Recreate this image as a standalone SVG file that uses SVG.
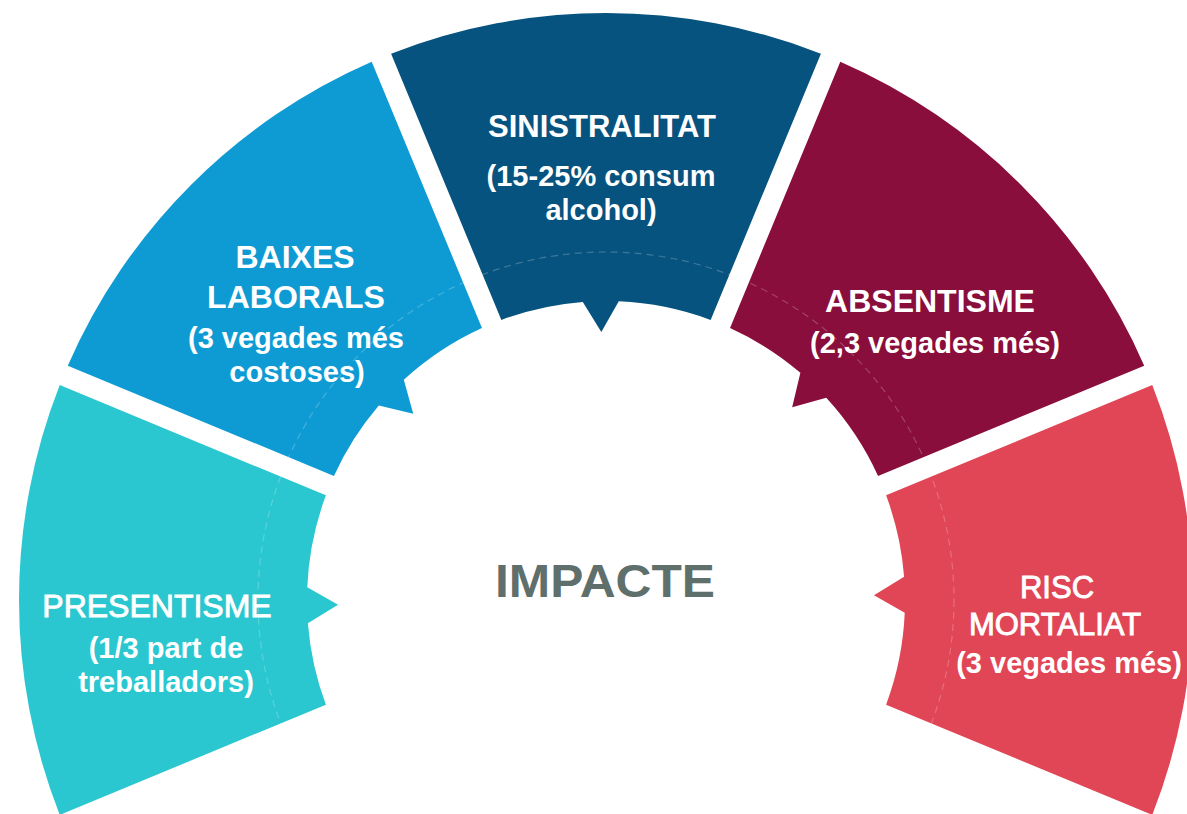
<svg xmlns="http://www.w3.org/2000/svg" width="1187" height="814" viewBox="0 0 1187 814">
<style>
.t{font-family:"Liberation Sans",Arial,sans-serif;fill:#ffffff;text-anchor:middle}
.b{font-weight:bold}
.r{stroke:#ffffff;stroke-width:0.9}
.h{font-size:32px}
.s{font-size:29px;font-weight:bold}
.ring{fill:none;stroke:#ffffff;stroke-opacity:0.22;stroke-width:1.2;stroke-dasharray:7 5}
</style>
<rect width="1187" height="814" fill="#ffffff"/>
<g id="presentisme">
<path d="M 59.75 814.9 A 587 587 0 0 1 59.75 385.1 L 325.9 495.35 A 299 299 0 0 0 307.27 587.22 L 338.04 604.68 L 307.90 623.20 A 299 299 0 0 0 325.9 704.65 Z" fill="#2bc7d0"/>
</g>
<g id="baixes">
<path d="M 67.79 365.70 A 587 587 0 0 1 371.70 61.79 L 481.95 327.95 A 299 299 0 0 0 403.81 379.73 L 413.22 413.83 L 378.81 405.62 A 299 299 0 0 0 333.95 475.95 Z" fill="#0e9bd3"/>
</g>
<g id="sinistralitat">
<path d="M 391.10 53.75 A 587 587 0 0 1 820.90 53.75 L 710.65 319.91 A 299 299 0 0 0 618.78 301.27 L 601.32 332.04 L 582.80 301.90 A 299 299 0 0 0 501.35 319.91 Z" fill="#07537f"/>
</g>
<g id="absentisme">
<path d="M 840.30 61.79 A 587 587 0 0 1 1144.21 365.70 L 878.05 475.95 A 299 299 0 0 0 826.27 397.81 L 792.17 407.22 L 800.38 372.81 A 299 299 0 0 0 730.05 327.95 Z" fill="#8a0e3b"/>
</g>
<g id="risc">
<path d="M 1152.25 385.10 A 587 587 0 0 1 1152.25 814.90 L 886.09 704.65 A 299 299 0 0 0 904.73 612.78 L 873.96 595.32 L 904.10 576.80 A 299 299 0 0 0 886.09 495.35 Z" fill="#e14656"/>
</g>
<circle class="ring" cx="606" cy="600" r="348"/>
<g id="labels">
<text class="t h r" x="157" y="617">PRESENTISME</text>
<text class="t s" x="166" y="658">(1/3 part de</text>
<text class="t s" x="166" y="692">treballadors)</text>

<text class="t h b" x="295" y="268">BAIXES</text>
<text class="t h b" x="296" y="308">LABORALS</text>
<text class="t s" x="296" y="348">(3 vegades més</text>
<text class="t s" x="297" y="382">costoses)</text>

<text class="t b" font-size="31" x="602" y="137">SINISTRALITAT</text>
<text class="t s" x="601" y="186">(15-25% consum</text>
<text class="t s" x="601" y="220">alcohol)</text>

<text class="t h b" x="930" y="312">ABSENTISME</text>
<text class="t s" x="935" y="353">(2,3 vegades més)</text>

<text class="t r" font-size="31" x="1057" y="598">RISC</text>
<text class="t r" font-size="31" x="1055" y="635">MORTALIAT</text>
<text class="t s" x="1069" y="673">(3 vegades més)</text>
</g>
<g id="impacte">
<text x="605" y="597" font-family="Liberation Sans,Arial,sans-serif" font-weight="bold" font-size="46" fill="#5f6f6b" text-anchor="middle" textLength="220" lengthAdjust="spacingAndGlyphs">IMPACTE</text>
</g>
</svg>
